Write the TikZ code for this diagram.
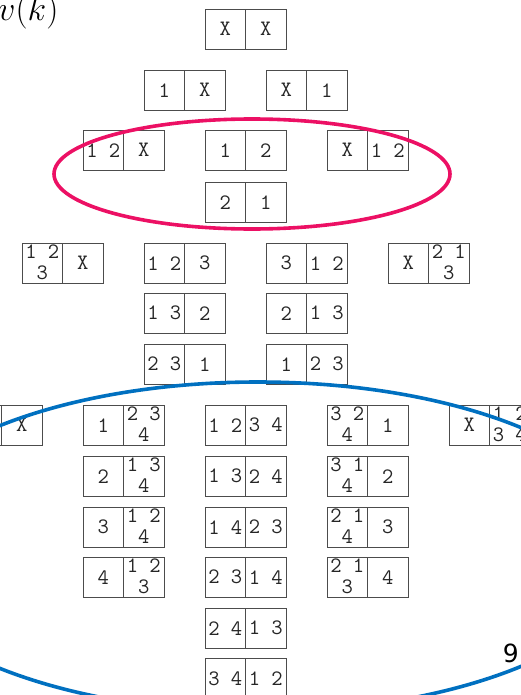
\documentclass[tikz,border=0pt]{standalone}
\usepackage{fontspec}
\newfontfamily\slidefont{DejaVu Sans}
\definecolor{pinkring}{RGB}{236,16,100}
\definecolor{bluering}{RGB}{0,112,192}

% one two-cell box: name, left x, top y, left text, right text
\newcommand\permbox[5]{%
  \node[cell] (#1l) at (#2+20.25,#3+20.25) {#4};
  \node[cell] (#1r) at (#2+60.75,#3+20.25) {#5};}
% two rows of digits stacked inside one cell
\newcommand\stk[2]{\vbox{\offinterlineskip\halign{\hfil##\hfil\cr
  \vrule height 13.5pt width 0pt #1\cr
  \vrule height 21pt depth 2pt width 0pt #2\cr}}}

\begin{document}
\begin{tikzpicture}[x=1pt,y=-1pt,
  cell/.style={draw=black!70, line width=0.75pt, minimum width=40.5pt,
    minimum height=40.5pt, inner sep=0pt, text=black!85,
    font=\ttfamily\fontsize{22}{22}\selectfont},
  ring/.style={line width=3.6pt}]
\useasboundingbox (0,0) rectangle (520,695);

% level 0
\permbox{a}{205}{9}{X}{X}
% level 1
\permbox{ba}{144}{70}{1}{X}
\permbox{bb}{266}{70}{X}{1}
% level 2
\permbox{ca}{83}{130}{1 2}{X}
\permbox{cb}{205}{130}{1}{2}
\permbox{cc}{327}{130}{X}{1 2}
\permbox{cd}{205}{182}{2}{1}
% level 3
\permbox{da}{22}{243}{\stk{1 2}{3}}{X}
\permbox{db}{144}{243}{1 2}{3}
\permbox{dc}{266}{243}{3}{1 2}
\permbox{dd}{388}{243}{X}{\stk{2 1}{3}}
\permbox{de}{144}{293}{1 3}{2}
\permbox{df}{266}{293}{2}{1 3}
\permbox{dg}{144}{344}{2 3}{1}
\permbox{dh}{266}{344}{1}{2 3}
% level 4
\permbox{ea}{-39}{405}{}{X}
\permbox{eb}{83}{405}{1}{\stk{2 3}{4}}
\permbox{ec}{205}{405}{1 2}{3 4}
\permbox{ed}{327}{405}{\stk{3 2}{4}}{1}
\permbox{ee}{449}{405}{X}{\stk{1 2}{3 4}}
\permbox{ef}{83}{456}{2}{\stk{1 3}{4}}
\permbox{eg}{205}{456}{1 3}{2 4}
\permbox{eh}{327}{456}{\stk{3 1}{4}}{2}
\permbox{ei}{83}{507}{3}{\stk{1 2}{4}}
\permbox{ej}{205}{507}{1 4}{2 3}
\permbox{ek}{327}{507}{\stk{2 1}{4}}{3}
\permbox{el}{83}{557}{4}{\stk{1 2}{3}}
\permbox{em}{205}{557}{2 3}{1 4}
\permbox{en}{327}{557}{\stk{2 1}{3}}{4}
\permbox{eo}{205}{608}{2 4}{1 3}
\permbox{ep}{205}{658}{3 4}{1 2}

% rings around the two-element and four-element levels
\draw[ring, draw=pinkring] (252,174) ellipse [x radius=198, y radius=55];
\draw[ring, draw=bluering] (258,547) ellipse [x radius=381, y radius=165];

% title and page number
\node[anchor=base west, inner sep=0pt, font=\fontsize{20.74}{20}\selectfont] (title) at (-2,20.5) {\scalebox{1.65}{$v(k)$}};
\node[anchor=base east, inner sep=0pt, font=\slidefont\fontsize{25}{25}\selectfont] (page) at (519,662) {9};
\end{tikzpicture}
\end{document}
